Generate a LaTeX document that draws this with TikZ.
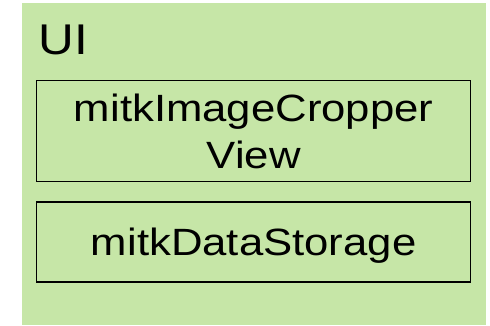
\documentclass[tikz,border=0pt]{standalone}
\usepackage{fontspec}
\setmainfont[FakeStretch=1.15]{Liberation Sans}
\definecolor{uigreen}{RGB}{198,230,167}
\begin{document}
\begin{tikzpicture}[x=1pt,y=1pt,
  compbox/.style={draw=black, line width=1.5pt, fill=none, minimum width=434pt, inner sep=0pt, align=center, font=\fontsize{38}{47}\selectfont}]
\useasboundingbox (0,0) rectangle (490,-325);
\fill[uigreen] (22,-3) rectangle (486,-325);
\node[anchor=base west, inner sep=0pt, font=\fontsize{43}{50}\selectfont] (ui) at (38.5,-54) {UI};
\node[compbox, minimum height=101pt] (view) at (253.7,-131.2) {mitkImageCropper\\View};
\node[compbox, minimum height=80pt, text depth=0pt] (storage) at (253.7,-242) {mitkDataStorage};
\end{tikzpicture}
\end{document}
